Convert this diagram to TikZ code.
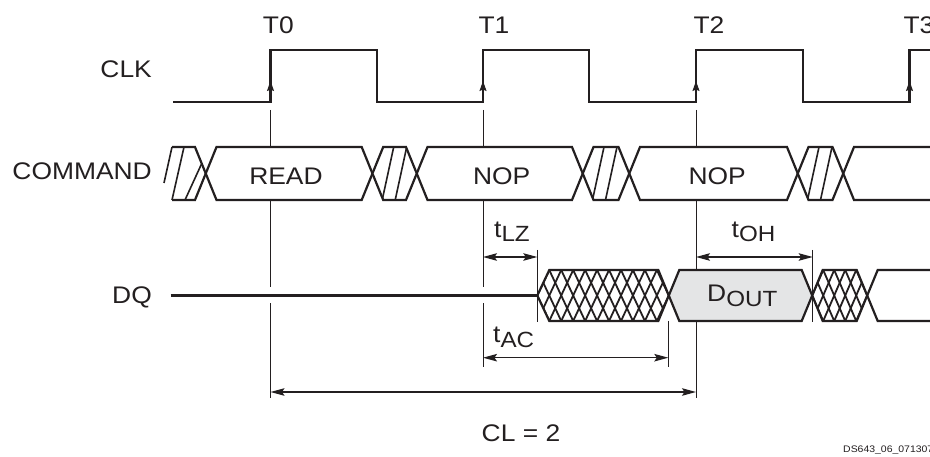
\documentclass[tikz,border=0pt]{standalone}
\usepackage{fontspec}
\setmainfont{Liberation Sans}[FakeStretch=1.1]
\usetikzlibrary{arrows.meta}
\definecolor{ink}{RGB}{35,31,32}
\definecolor{doutgray}{RGB}{228,229,230}
\newcommand{\lowsub}[1]{\raisebox{-4.5pt}{\fontsize{22}{26}\selectfont #1}}
\tikzset{
  sig/.style={draw=ink, line width=2.2pt, line join=miter, line cap=butt},
  guide/.style={draw=ink, line width=1pt},
  dimarrow/.style={draw=ink, line width=1.2pt, {Stealth[length=14pt,width=7.5pt,inset=2.5pt]}-{Stealth[length=14pt,width=7.5pt,inset=2.5pt]}},
  edgearrow/.style={draw=ink, line width=1pt, -{Stealth[length=10pt,width=7pt,inset=1.5pt]}},
  hatchline/.style={draw=ink, line width=1.6pt},
  xline/.style={draw=ink, line width=1.8pt},
  lbl/.style={inner sep=0pt, text=ink, font=\fontsize{24}{28}\selectfont},
  tinylbl/.style={inner sep=0pt, text=ink, font=\fontsize{9.5}{11}\selectfont},
}
\begin{document}
\begin{tikzpicture}[x=1pt,y=-1pt]
\useasboundingbox (0,0) rectangle (930,457);
\fill[white] (0,0) rectangle (930,457);

% clock edge reference coordinates
\coordinate (T0) at (270.5,0);
\coordinate (T1) at (483,0);
\coordinate (T2) at (696,0);
\coordinate (T3) at (909.5,0);

% guide lines
\draw[guide] (270.5,110) -- (270.5,398);
\draw[guide] (483,110) -- (483,367);
\draw[guide] (696,110) -- (696,398);

% ---------- COMMAND bus ----------
% left don't-care start
\draw[sig] (172,147) -- (195,147) -- (205.75,173.5) -- (195,200) -- (172,200);
\draw[hatchline] (164,183) -- (172,147);
\draw[hatchline] (172,200) -- (184,147);
\draw[hatchline] (185,200) -- (201.5,164);

% valid boxes
\foreach \xl/\xr in {216.5/361.7, 427.5/572, 640/787}{
  \draw[sig, fill=white] ({\xl-10.75},173.5) -- (\xl,147) -- (\xr,147) -- ({\xr+10.75},173.5) -- (\xr,200) -- (\xl,200) -- cycle;
}
% hatched transitions
\foreach \xb/\xc in {383.2/406, 593.5/618.5, 808.5/832.5}{
  \fill[white] ({\xb-10.75},173.5) -- (\xb,147) -- (\xc,147) -- ({\xc+10.75},173.5) -- (\xc,200) -- (\xb,200) -- cycle;
  \begin{scope}
    \clip ({\xb-10.75},173.5) -- (\xb,147) -- (\xc,147) -- ({\xc+10.75},173.5) -- (\xc,200) -- (\xb,200) -- cycle;
    \draw[hatchline] ({\xb-1},200) -- ({\xb+10.5},147);
    \draw[hatchline] ({\xb+12},200) -- ({\xb+23.5},147);
  \end{scope}
  \draw[sig] ({\xb-10.75},173.5) -- (\xb,147) -- (\xc,147) -- ({\xc+10.75},173.5) -- (\xc,200) -- (\xb,200) -- cycle;
}
% last open box
\draw[sig] (935,147) -- (854,147) -- (843.25,173.5) -- (854,200) -- (935,200);

% ---------- DQ ----------
\draw[white, line width=16pt] (250,295.5) -- (500,295.5);
\draw[sig] (170.7,295.5) -- (537.3,295.5);

% crosshatch 1
\fill[white] (537.3,295.5) -- (549.3,270) -- (658.3,270) -- (668.8,295.5) -- (658.3,321) -- (549.3,321) -- cycle;
\begin{scope}
  \clip (537.3,295.5) -- (549.3,270) -- (658.3,270) -- (668.8,295.5) -- (658.3,321) -- (549.3,321) -- cycle;
  \foreach \i in {-2,...,12}{
    \draw[xline] ({525.345+11.955*\i},321) -- ({525.345+11.955*\i+23.91},270);
    \draw[xline] ({525.345+11.955*\i},270) -- ({525.345+11.955*\i+23.91},321);
  }
\end{scope}
\draw[sig] (537.3,295.5) -- (549.3,270) -- (658.3,270) -- (668.8,295.5) -- (658.3,321) -- (549.3,321) -- cycle;

% DOUT
\draw[sig, fill=doutgray] (668.8,295.5) -- (679.3,270) -- (801.7,270) -- (812.2,295.5) -- (801.7,321) -- (679.3,321) -- cycle;

% crosshatch 2
\fill[white] (812.2,295.5) -- (822.7,270) -- (856.7,270) -- (867.2,295.5) -- (856.7,321) -- (822.7,321) -- cycle;
\begin{scope}
  \clip (812.2,295.5) -- (822.7,270) -- (856.7,270) -- (867.2,295.5) -- (856.7,321) -- (822.7,321) -- cycle;
  \foreach \i in {-2,...,6}{
    \draw[xline] ({801.2+11*\i},321) -- ({801.2+11*\i+22},270);
    \draw[xline] ({801.2+11*\i},270) -- ({801.2+11*\i+22},321);
  }
\end{scope}
\draw[sig] (812.2,295.5) -- (822.7,270) -- (856.7,270) -- (867.2,295.5) -- (856.7,321) -- (822.7,321) -- cycle;
\draw[sig] (935,270) -- (877.7,270) -- (867.2,295.5) -- (877.7,321) -- (935,321);

% extension lines for timing
\coordinate (lzEnd) at (537.3,257);
\coordinate (acEnd) at (668.3,357.7);
\coordinate (ohEnd) at (812.7,257);
\draw[guide] (537.3,250) -- (537.3,322);
\draw[guide] (668.3,321) -- (668.3,367);
\draw[guide] (812.7,250) -- (812.7,322);

% dimension arrows
\coordinate (lzStart) at (483,257);
\coordinate (acStart) at (483,357.7);
\coordinate (ohStart) at (696,257);
\coordinate (clStart) at (270.5,392);
\coordinate (clEnd) at (696,392);
\draw[dimarrow] (lzStart) -- (lzEnd);
\draw[dimarrow] (ohStart) -- (ohEnd);
\draw[dimarrow] (acStart) -- (acEnd);
\draw[dimarrow] (clStart) -- (clEnd);

% ---------- CLK ----------
\draw[sig] (173,102) -- (270.5,102) -- (270.5,50) -- (376.7,50) -- (376.7,102) -- (483,102) -- (483,50) -- (589.3,50) -- (589.3,102) -- (696,102) -- (696,50) -- (802.7,50) -- (802.7,102) -- (909.5,102) -- (909.5,50) -- (935,50);
\foreach \x in {270.5,483,696,909.5}{
  \draw[edgearrow] (\x,96) -- (\x,81);
}

% ---------- labels ----------
\node[lbl, anchor=base west] (lT0) at (262.7,33.5) {T0};
\node[lbl, anchor=base west] (lT1) at (478.3,33.5) {T1};
\node[lbl, anchor=base west] (lT2) at (693.3,33.5) {T2};
\node[lbl, anchor=base west] (lT3) at (903.3,33.5) {T3};

\node[lbl, anchor=base east] (lclk) at (152,77.5) {CLK};
\node[lbl, anchor=base east] (lcmd) at (152,180) {COMMAND};
\node[lbl, anchor=base east] (ldq) at (152,304) {DQ};

\node[lbl, anchor=base] (lread) at (286,185) {READ};
\node[lbl, anchor=base] (lnop1) at (501.7,185) {NOP};
\node[lbl, anchor=base] (lnop2) at (717.2,185) {NOP};

\node[lbl, anchor=base west] (ltlz) at (494,237.3) {t\lowsub{LZ}};
\node[lbl, anchor=base west] (ltoh) at (731.5,237.3) {t\lowsub{OH}};
\node[lbl, anchor=base west] (ltac) at (493,343) {t\lowsub{AC}};
\node[lbl, anchor=base west] (ldout) at (707,302) {D\lowsub{OUT}};

\node[lbl, anchor=base] (lcl) at (521,441) {CL = 2};
\node[tinylbl, anchor=base west] (lds) at (843,452) {DS643\_06\_071307};
\end{tikzpicture}
\end{document}
